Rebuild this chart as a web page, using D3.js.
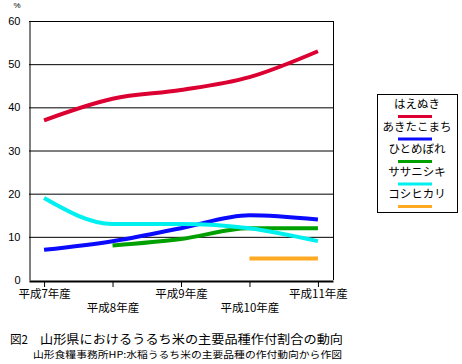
<!DOCTYPE html>
<html><head><meta charset="utf-8">
<script src="https://cdn.jsdelivr.net/npm/d3@7"></script>
<style>body{margin:0;background:#fff}svg{display:block}</style>
</head><body>
<script>
const categories = ["平成7年産","平成8年産","平成9年産","平成10年産","平成11年産"];
const yTicks = [0,10,20,30,40,50,60];
const seriesNames = ["はえぬき","あきたこまち","ひとめぼれ","ササニシキ","コシヒカリ"];
const haenuki = [37,42,44,47,53];
const akitakomachi = [7,9,12,15,14];
const hitomebore = [null,8,9.5,12,12];
const sasanishiki = [19,13,13,12,9];
const koshihikari = [null,null,null,5,5];
const colors = ["#dc0032","#0a0aff","#00a000","#00f0f0","#ffaa22"];
const titleLabel = "図2";
const title = "山形県におけるうるち米の主要品種作付割合の動向";
const source = "山形食糧事務所HP:水稲うるち米の主要品種の作付動向から作図";

const W=462,H=364;
const svg=d3.select("body").append("svg").attr("width",W).attr("height",H);
const m={l:29,r:333,t:21,b:280};
const x=d3.scalePoint().domain(categories).range([m.l,m.r]).padding(0.22);
const y=d3.scaleLinear().domain([0,60]).range([m.b,m.t]);
const jp='"Noto Sans CJK JP","Noto Sans",sans-serif';
const num='"Liberation Sans",Arial,sans-serif';

// grid
svg.append("g").selectAll("line").data(yTicks.filter(d=>d>0)).join("line")
  .attr("x1",m.l).attr("x2",m.r).attr("y1",d=>y(d)+0.5).attr("y2",d=>y(d)+0.5)
  .attr("stroke","#000").attr("stroke-width",1);
// right border
svg.append("line").attr("x1",m.r+0.5).attr("x2",m.r+0.5).attr("y1",m.t).attr("y2",m.b).attr("stroke","#000");
// y axis
const ya=svg.append("g").attr("transform",`translate(${m.l+0.5},0)`)
  .call(d3.axisLeft(y).tickValues(yTicks).tickSize(0).tickPadding(9));
ya.select(".domain").attr("stroke","#000");
ya.selectAll("text").attr("font-family",num).attr("font-size",11).attr("fill","#000");
// x axis
const xa=svg.append("g").attr("transform",`translate(0,${m.b+1})`)
  .call(d3.axisBottom(x).tickSize(6).tickSizeOuter(0));
xa.select(".domain").attr("stroke","#000").attr("stroke-width",2);
xa.selectAll(".tick line").attr("stroke","#000");
xa.selectAll("text").attr("font-family",jp).attr("font-size",11.5).attr("fill","#000")
  .attr("dy",null).attr("y",(d,i)=>i%2===0?14:28).attr("dominant-baseline","middle");

svg.append("text").attr("x",17).attr("y",6).attr("font-family",num).attr("font-size",8)
  .attr("text-anchor","middle").attr("dominant-baseline","middle").text("%");

const data=[haenuki,akitakomachi,hitomebore,sasanishiki,koshihikari];
const line=d3.line().defined(d=>d.v!=null).x(d=>x(d.c)).y(d=>y(d.v)).curve(d3.curveMonotoneX);
data.forEach((s,i)=>{
  const pts=s.map((v,j)=>({c:categories[j],v})).filter(d=>d.v!=null);
  svg.append("path").attr("d",line(pts)).attr("fill","none").attr("stroke",colors[i])
    .attr("stroke-width",4);
});

// legend
const lg=svg.append("g");
lg.append("rect").attr("x",377.5).attr("y",94.5).attr("width",80).attr("height",118)
  .attr("fill","#fff").attr("stroke","#000");
seriesNames.forEach((n,i)=>{
  const cy=105+i*22.5;
  lg.append("text").attr("x",417).attr("y",cy).attr("text-anchor","middle")
    .attr("dominant-baseline","middle").attr("font-family",jp).attr("font-size",11.5).text(n);
  lg.append("line").attr("x1",398).attr("x2",432).attr("y1",cy+11.5).attr("y2",cy+11.5)
    .attr("stroke",colors[i]).attr("stroke-width",3);
});

svg.append("text").attr("x",10).attr("y",341).attr("dominant-baseline","middle")
  .attr("font-family",jp).attr("font-size",12).attr("textLength",18).attr("lengthAdjust","spacingAndGlyphs").text(titleLabel);
svg.append("text").attr("x",40).attr("y",341).attr("dominant-baseline","middle")
  .attr("font-family",jp).attr("font-size",12).attr("textLength",303).attr("lengthAdjust","spacingAndGlyphs").text(title);
svg.append("text").attr("x",33).attr("y",355.5).attr("dominant-baseline","middle")
  .attr("font-family",jp).attr("font-size",9.5).attr("textLength",309).attr("lengthAdjust","spacingAndGlyphs").text(source);
</script>
</body></html>
